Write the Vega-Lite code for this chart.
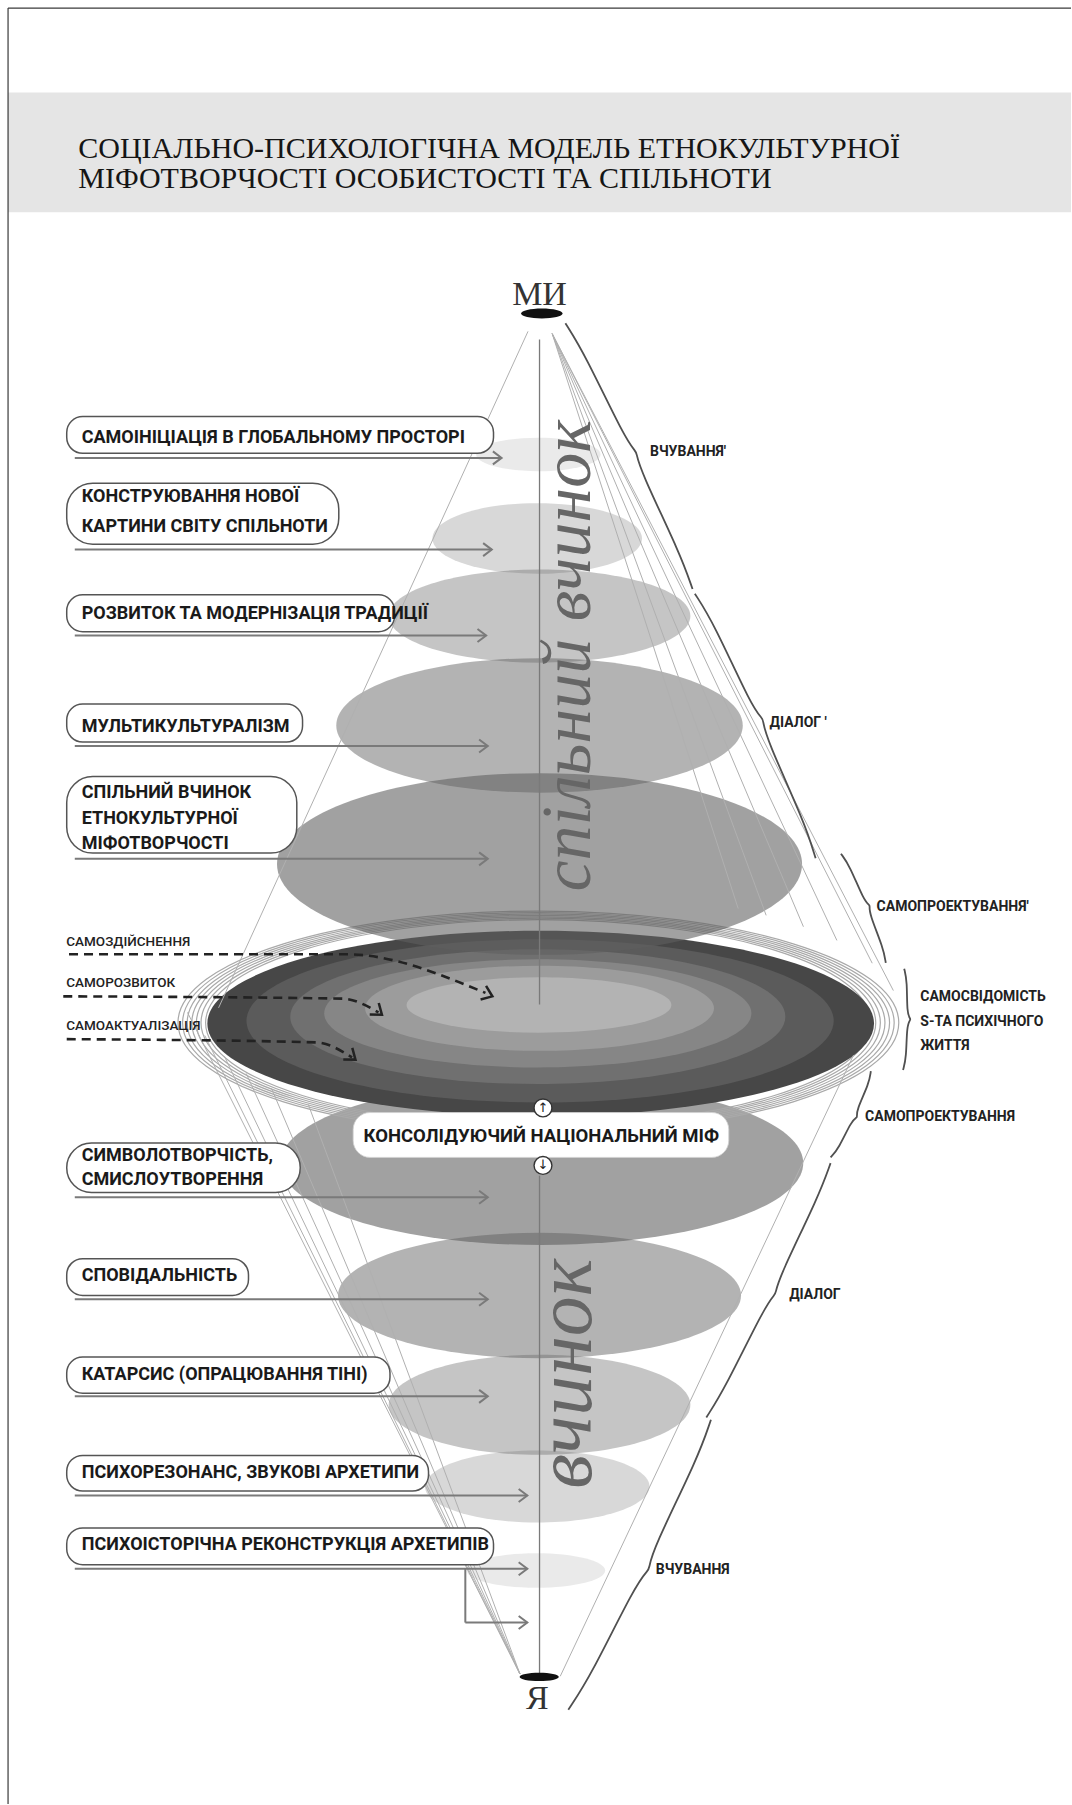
{
  "$schema": "https://vega.github.io/schema/vega-lite/v6.json",
  "width": 1072,
  "height": 1805,
  "autosize": {"type": "fit", "contains": "padding"},
  "padding": 0,
  "background": "#ffffff",
  "config": {"view": {"stroke": null}},
  "datasets": {
    "band": [{"x": 7, "x2": 931, "y": 80.5, "y2": 184.5}],
    "border": [{"x": 7, "y": 7, "x2": 931, "y2": 7}, {"x": 7, "y": 7, "x2": 7, "y2": 1568}],
    "title": [
      {"x": 68, "y": 137, "t": "СОЦІАЛЬНО-ПСИХОЛОГІЧНА МОДЕЛЬ ЕТНОКУЛЬТУРНОЇ"},
      {"x": 68, "y": 163.5, "t": "МІФОТВОРЧОСТІ ОСОБИСТОСТІ ТА СПІЛЬНОТИ"}
    ],
    "coneLow": [
      {"id": "E6", "x": 471, "y": 1011, "w": 454, "lvl": 5},
      {"id": "E7", "x": 469, "y": 1126, "w": 350, "lvl": 4},
      {"id": "E8", "x": 469, "y": 1221, "w": 262, "lvl": 3},
      {"id": "E9", "x": 467, "y": 1292, "w": 195, "lvl": 2},
      {"id": "E10", "x": 466, "y": 1365, "w": 120, "lvl": 1}
    ],
    "coneHigh": [
      {"id": "E1", "x": 468, "y": 395, "w": 108, "lvl": 1},
      {"id": "E2", "x": 467, "y": 468, "w": 182, "lvl": 2},
      {"id": "E3", "x": 469, "y": 535.5, "w": 262, "lvl": 3},
      {"id": "E4", "x": 469, "y": 630.5, "w": 353, "lvl": 4},
      {"id": "E5", "x": 469, "y": 751, "w": 456, "lvl": 5}
    ],
    "ring": [
      {"id": "R", "x": 468, "y": 889, "w": 626},
      {"id": "R", "x": 468, "y": 889, "w": 618},
      {"id": "R", "x": 468, "y": 889, "w": 610},
      {"id": "R", "x": 468, "y": 889, "w": 602},
      {"id": "R", "x": 468, "y": 889, "w": 594},
      {"id": "R", "x": 468, "y": 889, "w": 586},
      {"id": "R", "x": 468, "y": 889, "w": 578}
    ],
    "mid": [
      {"id": "M1", "x": 470, "y": 889.5, "w": 579, "layer": 1},
      {"id": "M2", "x": 469.5, "y": 887.3, "w": 510, "layer": 2},
      {"id": "M3", "x": 467.5, "y": 883.7, "w": 430, "layer": 3},
      {"id": "M4", "x": 467.5, "y": 880.8, "w": 371, "layer": 4},
      {"id": "M5", "x": 469, "y": 876.4, "w": 303, "layer": 5},
      {"id": "M6", "x": 468.5, "y": 873.5, "w": 230, "layer": 6}
    ],
    "dots": [
      {"id": "MI", "x": 471, "y": 272.5, "w": 36},
      {"id": "YA", "x": 468.7, "y": 1457.6, "w": 34}
    ],
    "fan": [
      {"x": 459, "y": 288, "x2": 190, "y2": 876},
      {"x": 480, "y": 290, "x2": 641.7, "y2": 789.7},
      {"x": 480, "y": 290, "x2": 666, "y2": 795.6},
      {"x": 480, "y": 290, "x2": 698.4, "y2": 805.5},
      {"x": 480, "y": 290, "x2": 727.5, "y2": 817.4},
      {"x": 480, "y": 290, "x2": 758.2, "y2": 837.2},
      {"x": 480, "y": 290, "x2": 776.6, "y2": 861},
      {"x": 452, "y": 1455, "x2": 163, "y2": 880},
      {"x": 452, "y": 1455, "x2": 178, "y2": 900},
      {"x": 452, "y": 1455, "x2": 195, "y2": 918},
      {"x": 452, "y": 1455, "x2": 214, "y2": 933},
      {"x": 452, "y": 1455, "x2": 236, "y2": 946},
      {"x": 452, "y": 1455, "x2": 268, "y2": 960},
      {"x": 487, "y": 1457, "x2": 742, "y2": 917}
    ],
    "axisLine": [
      {"x": 469, "y": 295, "y2": 873},
      {"x": 469, "y": 1022, "y2": 1455}
    ],
    "braces": [
      {"b": 1, "o": 1, "x": 491.5, "y": 281}, {"b": 1, "o": 2, "x": 507.9, "y": 307}, {"b": 1, "o": 3, "x": 543.2, "y": 380.9}, {"b": 1, "o": 4, "x": 553, "y": 393}, {"b": 1, "o": 5, "x": 553, "y": 393}, {"b": 1, "o": 6, "x": 556.5, "y": 408.6}, {"b": 1, "o": 7, "x": 591.8, "y": 482.5}, {"b": 1, "o": 8, "x": 602, "y": 512},
      {"b": 2, "o": 1, "x": 604, "y": 516}, {"b": 2, "o": 2, "x": 619.9, "y": 540.6}, {"b": 2, "o": 3, "x": 653.5, "y": 614.2}, {"b": 2, "o": 4, "x": 663, "y": 625}, {"b": 2, "o": 5, "x": 663, "y": 625}, {"b": 2, "o": 6, "x": 666.1, "y": 641.8}, {"b": 2, "o": 7, "x": 699.7, "y": 715.4}, {"b": 2, "o": 8, "x": 709, "y": 746},
      {"b": 3, "o": 1, "x": 731, "y": 742}, {"b": 3, "o": 2, "x": 738.5, "y": 752.2}, {"b": 3, "o": 3, "x": 750.9, "y": 782.6}, {"b": 3, "o": 4, "x": 756, "y": 787}, {"b": 3, "o": 5, "x": 756, "y": 787}, {"b": 3, "o": 6, "x": 755.6, "y": 794}, {"b": 3, "o": 7, "x": 768, "y": 824.4}, {"b": 3, "o": 8, "x": 770, "y": 837},
      {"b": 4, "o": 1, "x": 786, "y": 842}, {"b": 4, "o": 2, "x": 788.6, "y": 852.6}, {"b": 4, "o": 3, "x": 788.3, "y": 880.7}, {"b": 4, "o": 4, "x": 791.5, "y": 886}, {"b": 4, "o": 5, "x": 791.5, "y": 886}, {"b": 4, "o": 6, "x": 788.2, "y": 891.3}, {"b": 4, "o": 7, "x": 787.9, "y": 919.4}, {"b": 4, "o": 8, "x": 785, "y": 930},
      {"b": 5, "o": 1, "x": 757, "y": 931}, {"b": 5, "o": 2, "x": 755.6, "y": 941.3}, {"b": 5, "o": 3, "x": 744.4, "y": 965.3}, {"b": 5, "o": 4, "x": 745, "y": 971}, {"b": 5, "o": 5, "x": 745, "y": 971}, {"b": 5, "o": 6, "x": 740.2, "y": 974.3}, {"b": 5, "o": 7, "x": 729, "y": 998.3}, {"b": 5, "o": 8, "x": 722, "y": 1006},
      {"b": 6, "o": 1, "x": 722, "y": 1011}, {"b": 6, "o": 2, "x": 712, "y": 1039}, {"b": 6, "o": 3, "x": 677.5, "y": 1109.7}, {"b": 6, "o": 4, "x": 674, "y": 1124.5}, {"b": 6, "o": 5, "x": 674, "y": 1124.5}, {"b": 6, "o": 6, "x": 664.5, "y": 1136.3}, {"b": 6, "o": 7, "x": 630, "y": 1207}, {"b": 6, "o": 8, "x": 614, "y": 1232},
      {"b": 7, "o": 1, "x": 618, "y": 1234}, {"b": 7, "o": 2, "x": 607.1, "y": 1266.2}, {"b": 7, "o": 3, "x": 567.4, "y": 1346.9}, {"b": 7, "o": 4, "x": 564, "y": 1364}, {"b": 7, "o": 5, "x": 564, "y": 1364}, {"b": 7, "o": 6, "x": 552.6, "y": 1377.1}, {"b": 7, "o": 7, "x": 512.9, "y": 1457.8}, {"b": 7, "o": 8, "x": 494, "y": 1486}
    ],
    "boxes1": [
      {"x": 58, "x2": 429, "y": 362, "y2": 394},
      {"x": 58, "x2": 343, "y": 517, "y2": 549},
      {"x": 58, "x2": 263, "y": 612, "y2": 645},
      {"x": 58, "x2": 216, "y": 1094, "y2": 1126},
      {"x": 58, "x2": 339, "y": 1179.5, "y2": 1211},
      {"x": 58, "x2": 372.5, "y": 1265, "y2": 1296},
      {"x": 58, "x2": 429, "y": 1328, "y2": 1360}
    ],
    "boxes2": [
      {"x": 58, "x2": 294.5, "y": 420, "y2": 473},
      {"x": 58, "x2": 258, "y": 675, "y2": 741.5},
      {"x": 58, "x2": 261, "y": 993.5, "y2": 1036.5}
    ],
    "boxLabels": [
      {"x": 71, "y": 381, "t": "САМОІНІЦІАЦІЯ В ГЛОБАЛЬНОМУ ПРОСТОРІ"},
      {"x": 71, "y": 432, "t": "КОНСТРУЮВАННЯ НОВОЇ"},
      {"x": 71, "y": 458, "t": "КАРТИНИ СВІТУ СПІЛЬНОТИ"},
      {"x": 71, "y": 534, "t": "РОЗВИТОК ТА МОДЕРНІЗАЦІЯ ТРАДИЦІЇ"},
      {"x": 71, "y": 632, "t": "МУЛЬТИКУЛЬТУРАЛІЗМ"},
      {"x": 71, "y": 689, "t": "СПІЛЬНИЙ ВЧИНОК"},
      {"x": 71, "y": 712, "t": "ЕТНОКУЛЬТУРНОЇ"},
      {"x": 71, "y": 734, "t": "МІФОТВОРЧОСТІ"},
      {"x": 71, "y": 1005, "t": "СИМВОЛОТВОРЧІСТЬ,"},
      {"x": 71, "y": 1026, "t": "СМИСЛОУТВОРЕННЯ"},
      {"x": 71, "y": 1109, "t": "СПОВІДАЛЬНІСТЬ"},
      {"x": 71, "y": 1195, "t": "КАТАРСИС (ОПРАЦЮВАННЯ ТІНІ)"},
      {"x": 71, "y": 1280, "t": "ПСИХОРЕЗОНАНС, ЗВУКОВІ АРХЕТИПИ"},
      {"x": 71, "y": 1343, "t": "ПСИХОІСТОРІЧНА РЕКОНСТРУКЦІЯ АРХЕТИПІВ"}
    ],
    "arrows": [
      {"x": 65, "x2": 436, "y": 398},
      {"x": 65, "x2": 427.5, "y": 477.7},
      {"x": 65, "x2": 422.6, "y": 552.4},
      {"x": 65, "x2": 424, "y": 648.4},
      {"x": 65, "x2": 424, "y": 746.5},
      {"x": 65, "x2": 424, "y": 1040.6},
      {"x": 65, "x2": 424, "y": 1129.3},
      {"x": 65, "x2": 424, "y": 1213.7},
      {"x": 65, "x2": 458.4, "y": 1299.9},
      {"x": 65, "x2": 458.4, "y": 1363.5},
      {"x": 404.5, "x2": 458.4, "y": 1410.3}
    ],
    "vseg": [{"x": 404.5, "y": 1363.5, "y2": 1410.3}],
    "midLabels": [
      {"x": 57.6, "y": 819, "t": "САМОЗДІЙСНЕННЯ"},
      {"x": 57.6, "y": 854, "t": "САМОРОЗВИТОК"},
      {"x": 57.6, "y": 891.6, "t": "САМОАКТУАЛІЗАЦІЯ"}
    ],
    "dashed": [
      {"d": 1, "o": 1, "x": 60, "y": 829.4}, {"d": 1, "o": 2, "x": 300, "y": 829.4}, {"d": 1, "o": 3, "x": 422, "y": 863},
      {"d": 2, "o": 1, "x": 55, "y": 866}, {"d": 2, "o": 2, "x": 298, "y": 868}, {"d": 2, "o": 3, "x": 329, "y": 880},
      {"d": 3, "o": 1, "x": 58, "y": 903.2}, {"d": 3, "o": 2, "x": 275, "y": 906}, {"d": 3, "o": 3, "x": 306, "y": 919}
    ],
    "dashHeads": [
      {"x": 428, "y": 866, "a": 22},
      {"x": 332, "y": 882, "a": 38},
      {"x": 309, "y": 921, "a": 38}
    ],
    "cons": [{"x": 307, "x2": 633.5, "y": 967, "y2": 1006}],
    "consText": [{"x": 470.5, "y": 987, "t": "КОНСОЛІДУЮЧИЙ НАЦІОНАЛЬНИЙ МІФ"}],
    "circles": [{"x": 472, "y": 963, "t": "↑"}, {"x": 472, "y": 1013, "t": "↓"}],
    "rightLabels": [
      {"x": 565, "y": 393, "t": "ВЧУВАННЯ'"},
      {"x": 669, "y": 628, "t": "ДІАЛОГ '"},
      {"x": 762, "y": 788, "t": "САМОПРОЕКТУВАННЯ'"},
      {"x": 800, "y": 867, "t": "САМОСВІДОМІСТЬ"},
      {"x": 800, "y": 888.5, "t": "S-ТА ПСИХІЧНОГО"},
      {"x": 800, "y": 909.5, "t": "ЖИТТЯ"},
      {"x": 752, "y": 971, "t": "САМОПРОЕКТУВАННЯ"},
      {"x": 686, "y": 1126, "t": "ДІАЛОГ"},
      {"x": 570, "y": 1365, "t": "ВЧУВАННЯ"}
    ],
    "poles": [{"x": 469, "y": 256, "t": "МИ"}, {"x": 467, "y": 1477, "t": "Я"}],
    "script1": [{"x": 495, "y": 570, "t": "спільний вчинок"}],
    "script2": [{"x": 493, "y": 1194, "t": "вчинок"}]
  },
  "encoding": {
    "x": {"field": "x", "type": "quantitative", "scale": {"domain": [0, 931], "nice": false, "zero": false}, "axis": null},
    "y": {"field": "y", "type": "quantitative", "scale": {"domain": [0, 1568], "nice": false, "zero": false, "reverse": true}, "axis": null}
  },
  "layer": [
    {"data": {"name": "band"}, "mark": {"type": "rect", "color": "#e5e5e5"}, "encoding": {"x2": {"field": "x2"}, "y2": {"field": "y2"}}},
    {"data": {"name": "border"}, "mark": {"type": "rule", "color": "#3a3a3a", "strokeWidth": 1.2}, "encoding": {"x2": {"field": "x2"}, "y2": {"field": "y2"}}},
    {"data": {"name": "title"}, "mark": {"type": "text", "align": "left", "baseline": "alphabetic", "font": "Liberation Serif", "fontSize": 30, "color": "#151515"}, "encoding": {"text": {"field": "t"}}},
    {"data": {"name": "coneLow"}, "mark": {"type": "point", "filled": true, "color": "#5f5f5f", "strokeWidth": 0},
      "encoding": {
        "size": {"field": "w", "type": "quantitative", "scale": {"type": "pow", "exponent": 2, "domain": [0, 931], "range": [0, 1149184], "nice": false}, "legend": null},
        "shape": {"field": "id", "type": "nominal", "scale": {"domain": ["E1","E2","E3","E4","E5","E6","E7","E8","E9","E10","M1","M2","M3","M4","M5","M6","R","MI","YA"], "range": ["M-1,0A1,0.269,0,1,1,1,0A1,0.269,0,1,1,-1,0Z","M-1,0A1,0.337,0,1,1,1,0A1,0.337,0,1,1,-1,0Z","M-1,0A1,0.309,0,1,1,1,0A1,0.309,0,1,1,-1,0Z","M-1,0A1,0.331,0,1,1,1,0A1,0.331,0,1,1,-1,0Z","M-1,0A1,0.346,0,1,1,1,0A1,0.346,0,1,1,-1,0Z","M-1,0A1,0.313,0,1,1,1,0A1,0.313,0,1,1,-1,0Z","M-1,0A1,0.311,0,1,1,1,0A1,0.311,0,1,1,-1,0Z","M-1,0A1,0.332,0,1,1,1,0A1,0.332,0,1,1,-1,0Z","M-1,0A1,0.321,0,1,1,1,0A1,0.321,0,1,1,-1,0Z","M-1,0A1,0.25,0,1,1,1,0A1,0.25,0,1,1,-1,0Z","M-1,0A1,0.278,0,1,1,1,0A1,0.278,0,1,1,-1,0Z","M-1,0A1,0.278,0,1,1,1,0A1,0.278,0,1,1,-1,0Z","M-1,0A1,0.272,0,1,1,1,0A1,0.272,0,1,1,-1,0Z","M-1,0A1,0.253,0,1,1,1,0A1,0.253,0,1,1,-1,0Z","M-1,0A1,0.244,0,1,1,1,0A1,0.244,0,1,1,-1,0Z","M-1,0A1,0.209,0,1,1,1,0A1,0.209,0,1,1,-1,0Z","M-1,0A1,0.31,0,1,1,1,0A1,0.31,0,1,1,-1,0Z","M-1,0A1,0.24,0,1,1,1,0A1,0.24,0,1,1,-1,0Z","M-1,0A1,0.21,0,1,1,1,0A1,0.21,0,1,1,-1,0Z"]}, "legend": null},
        "opacity": {"field": "lvl", "type": "quantitative", "scale": {"domain": [1, 5], "range": [0.13, 0.59]}, "legend": null}
      }},
    {"data": {"name": "ring"}, "mark": {"type": "point", "filled": false, "color": "#a9a9a9", "strokeWidth": 1.2, "opacity": 1},
      "encoding": {
        "size": {"field": "w", "type": "quantitative", "legend": null},
        "shape": {"field": "id", "type": "nominal", "legend": null}
      }},
    {"data": {"name": "mid"}, "mark": {"type": "point", "filled": true, "strokeWidth": 0, "opacity": 1},
      "encoding": {
        "size": {"field": "w", "type": "quantitative", "legend": null},
        "shape": {"field": "id", "type": "nominal", "legend": null},
        "color": {"field": "layer", "type": "quantitative", "scale": {"domain": [1, 6], "range": ["#474747", "#b3b3b3"]}, "legend": null}
      }},
    {"data": {"name": "coneHigh"}, "mark": {"type": "point", "filled": true, "color": "#5f5f5f", "strokeWidth": 0},
      "encoding": {
        "size": {"field": "w", "type": "quantitative", "legend": null},
        "shape": {"field": "id", "type": "nominal", "legend": null},
        "opacity": {"field": "lvl", "type": "quantitative", "legend": null}
      }},
    {"data": {"name": "fan"}, "mark": {"type": "rule", "color": "#b0b0b0", "strokeWidth": 1}, "encoding": {"x2": {"field": "x2"}, "y2": {"field": "y2"}}},
    {"data": {"name": "axisLine"}, "mark": {"type": "rule", "color": "#7a7a7a", "strokeWidth": 1.3}, "encoding": {"y2": {"field": "y2"}}},
    {"data": {"name": "script1"}, "mark": {"type": "text", "angle": 270, "align": "center", "baseline": "middle", "font": "Liberation Serif", "fontStyle": "italic", "fontSize": 70, "color": "#666666"}, "encoding": {"text": {"field": "t"}}},
    {"data": {"name": "script2"}, "mark": {"type": "text", "angle": 270, "align": "center", "baseline": "middle", "font": "Liberation Serif", "fontStyle": "italic", "fontSize": 80, "color": "#666666"}, "encoding": {"text": {"field": "t"}}},
    {"data": {"name": "braces"}, "mark": {"type": "line", "interpolate": "basis", "color": "#505050", "strokeWidth": 1.8}, "encoding": {"detail": {"field": "b"}, "order": {"field": "o"}}},
    {"data": {"name": "boxes1"}, "mark": {"type": "rect", "fill": "#ffffff", "stroke": "#555555", "strokeWidth": 1.5, "cornerRadius": 16}, "encoding": {"x2": {"field": "x2"}, "y2": {"field": "y2"}}},
    {"data": {"name": "boxes2"}, "mark": {"type": "rect", "fill": "#ffffff", "stroke": "#555555", "strokeWidth": 1.5, "cornerRadius": 26}, "encoding": {"x2": {"field": "x2"}, "y2": {"field": "y2"}}},
    {"data": {"name": "boxLabels"}, "mark": {"type": "text", "align": "left", "baseline": "middle", "font": "Roboto", "fontWeight": "bold", "fontSize": 18, "color": "#1a1a1a"}, "encoding": {"text": {"field": "t"}}},
    {"data": {"name": "arrows"}, "mark": {"type": "rule", "color": "#7a7a7a", "strokeWidth": 2}, "encoding": {"x2": {"field": "x2"}}},
    {"data": {"name": "vseg"}, "mark": {"type": "rule", "color": "#7a7a7a", "strokeWidth": 2}, "encoding": {"y2": {"field": "y2"}}},
    {"data": {"name": "arrows"}, "mark": {"type": "point", "shape": "M-1,-0.75L0,0L-1,0.75", "filled": false, "color": "#7a7a7a", "strokeWidth": 2, "size": 300, "opacity": 1},
      "encoding": {"x": {"field": "x2", "type": "quantitative", "scale": {"domain": [0, 931], "nice": false, "zero": false}, "axis": null}}},
    {"data": {"name": "midLabels"}, "mark": {"type": "text", "align": "left", "baseline": "middle", "font": "Roboto", "fontWeight": 500, "fontSize": 13.5, "color": "#222222"}, "encoding": {"text": {"field": "t"}}},
    {"data": {"name": "dashed"}, "mark": {"type": "line", "interpolate": "monotone", "color": "#222222", "strokeWidth": 2.6, "strokeDash": [9, 6]}, "encoding": {"detail": {"field": "d"}, "order": {"field": "o"}}},
    {"data": {"name": "dashHeads"}, "mark": {"type": "point", "shape": "M-1,-0.75L0,0L-1,0.75", "filled": false, "color": "#222222", "strokeWidth": 2.5, "size": 380, "opacity": 1},
      "encoding": {"angle": {"field": "a", "type": "quantitative", "scale": null}}},
    {"data": {"name": "cons"}, "mark": {"type": "rect", "fill": "#9a9a9a", "cornerRadius": 17, "xOffset": 2, "yOffset": 3}, "encoding": {"x2": {"field": "x2"}, "y2": {"field": "y2"}}},
    {"data": {"name": "cons"}, "mark": {"type": "rect", "fill": "#ffffff", "stroke": "#d0d0d0", "strokeWidth": 0.8, "cornerRadius": 17}, "encoding": {"x2": {"field": "x2"}, "y2": {"field": "y2"}}},
    {"data": {"name": "consText"}, "mark": {"type": "text", "align": "center", "baseline": "middle", "font": "Roboto", "fontWeight": "bold", "fontSize": 18.5, "color": "#1a1a1a"}, "encoding": {"text": {"field": "t"}}},
    {"data": {"name": "circles"}, "mark": {"type": "point", "shape": "circle", "filled": true, "fill": "#ffffff", "stroke": "#333333", "strokeWidth": 1.4, "size": 320, "opacity": 1}},
    {"data": {"name": "circles"}, "mark": {"type": "text", "align": "center", "baseline": "middle", "font": "DejaVu Sans", "fontSize": 13, "color": "#222222"}, "encoding": {"text": {"field": "t"}}},
    {"data": {"name": "rightLabels"}, "mark": {"type": "text", "align": "left", "baseline": "middle", "font": "Roboto", "fontWeight": "bold", "fontSize": 14, "color": "#222222"}, "encoding": {"text": {"field": "t"}}},
    {"data": {"name": "poles"}, "mark": {"type": "text", "align": "center", "baseline": "middle", "font": "Liberation Serif", "fontSize": 34, "color": "#333333"}, "encoding": {"text": {"field": "t"}}},
    {"data": {"name": "dots"}, "mark": {"type": "point", "filled": true, "color": "#111111", "strokeWidth": 0, "opacity": 1},
      "encoding": {
        "size": {"field": "w", "type": "quantitative", "legend": null},
        "shape": {"field": "id", "type": "nominal", "legend": null}
      }}
  ]
}
